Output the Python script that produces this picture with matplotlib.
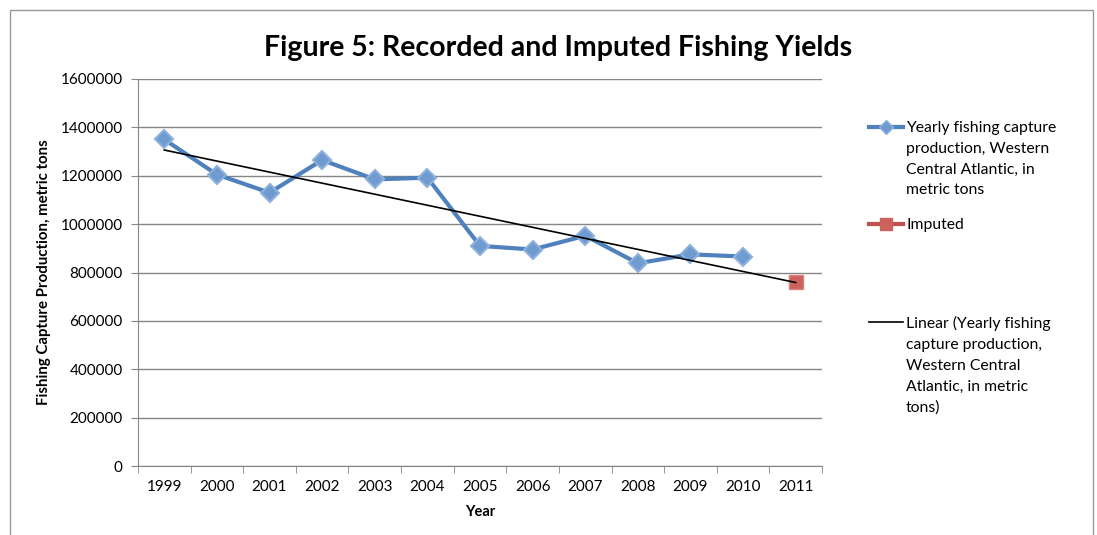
import matplotlib
matplotlib.use('Agg')
import matplotlib.pyplot as plt
from matplotlib.lines import Line2D
from matplotlib.patches import Rectangle
import numpy as np

years = ['1999', '2000', '2001', '2002', '2003', '2004', '2005',
         '2006', '2007', '2008', '2009', '2010', '2011']
recorded = [1350000, 1205000, 1130000, 1265000, 1185000, 1192000, 910000,
            895000, 952000, 838000, 875000, 866000]
imputed = [760000]
yticks = [0, 200000, 400000, 600000, 800000, 1000000, 1200000, 1400000, 1600000]

plt.rcParams['font.family'] = ['Lato', 'DejaVu Sans']
blue = '#4f81bd'
red = '#c0504d'

fig = plt.figure(figsize=(10.97, 5.35), dpi=100)
ax = fig.add_axes([138 / 1097, 1 - 466 / 535, (822 - 138) / 1097, (466 - 79) / 535])

x_rec = np.arange(len(recorded))
x_imp = np.arange(len(recorded), len(recorded) + len(imputed))

ax.plot(x_rec, recorded, color=blue, lw=3, marker='D', ms=9,
        mfc='#6f9bd0', mec='#8db0dc', mew=1.5, zorder=3)
ax.plot(x_imp, imputed, color=red, lw=3, marker='s', ms=10,
        mfc='#cb625e', mec='#d98380', mew=1, zorder=3)

# linear trend of the recorded series, forecast one period forward
coef = np.polyfit(x_rec, recorded, 1)
x_tr = np.array([0, len(years) - 1])
ax.plot(x_tr, np.polyval(coef, x_tr), color='black', lw=1.2, zorder=4)

ax.set_xlim(-0.5, len(years) - 0.5)
ax.set_ylim(0, 1600000)
ax.set_yticks(yticks)
ax.set_yticklabels([str(v) for v in yticks], fontsize=11)
ax.set_xticks(np.arange(len(years)))
ax.set_xticklabels(years, fontsize=11)
ax.set_xticks(np.arange(len(years) + 1) - 0.5, minor=True)
ax.tick_params(axis='x', which='major', length=0, pad=10)
ax.tick_params(axis='x', which='minor', length=5, color='#868686', direction='out')
ax.tick_params(axis='y', length=5, color='#868686', direction='out', pad=6)
ax.grid(axis='y', color='#868686', lw=1)
ax.set_axisbelow(True)
for s in ['top', 'right']:
    ax.spines[s].set_visible(False)
for s in ['left', 'bottom']:
    ax.spines[s].set_color('#868686')

ax.set_xlabel('Year', fontsize=10.5, fontweight='bold', labelpad=8)
ax.set_ylabel('Fishing Capture Production, metric tons', fontsize=10.8,
              fontweight='bold', labelpad=7)

fig.text(558 / 1097, 1 - 48 / 535, 'Figure 5: Recorded and Imputed Fishing Yields',
         ha='center', va='center', fontsize=20.5, fontweight='bold')

# outer chart frame
fig.add_artist(Rectangle((10 / 1097, -0.1), (1093 - 10) / 1097, 1.1 - 10 / 535,
                         transform=fig.transFigure, fill=False, ec='#9a9a9a', lw=1))

# legend
entries = [
    (dict(color=blue, lw=3, marker='D', ms=7, mfc='#6f9bd0', mec='#8db0dc'),
     'Yearly fishing capture\nproduction, Western\nCentral Atlantic, in\nmetric tons', 127),
    (dict(color=red, lw=3, marker='s', ms=8, mfc='#cb625e', mec='#cb625e'), 'Imputed', 224),
    (dict(color='black', lw=1.2), 'Linear (Yearly fishing\ncapture production,\nWestern Central\nAtlantic, in metric\ntons)', 322),
]
for style, label, ypix in entries:
    yf = 1 - ypix / 535
    x0, x1 = 869 / 1097, 903 / 1097
    fig.add_artist(Line2D([x0, (x0 + x1) / 2, x1], [yf, yf, yf], transform=fig.transFigure,
                          markevery=[1], **style))
    fig.text(906 / 1097, yf + 6 / 535, label, ha='left', va='top', fontsize=11.3,
             linespacing=1.62)

fig.savefig('out.png', dpi=100)
